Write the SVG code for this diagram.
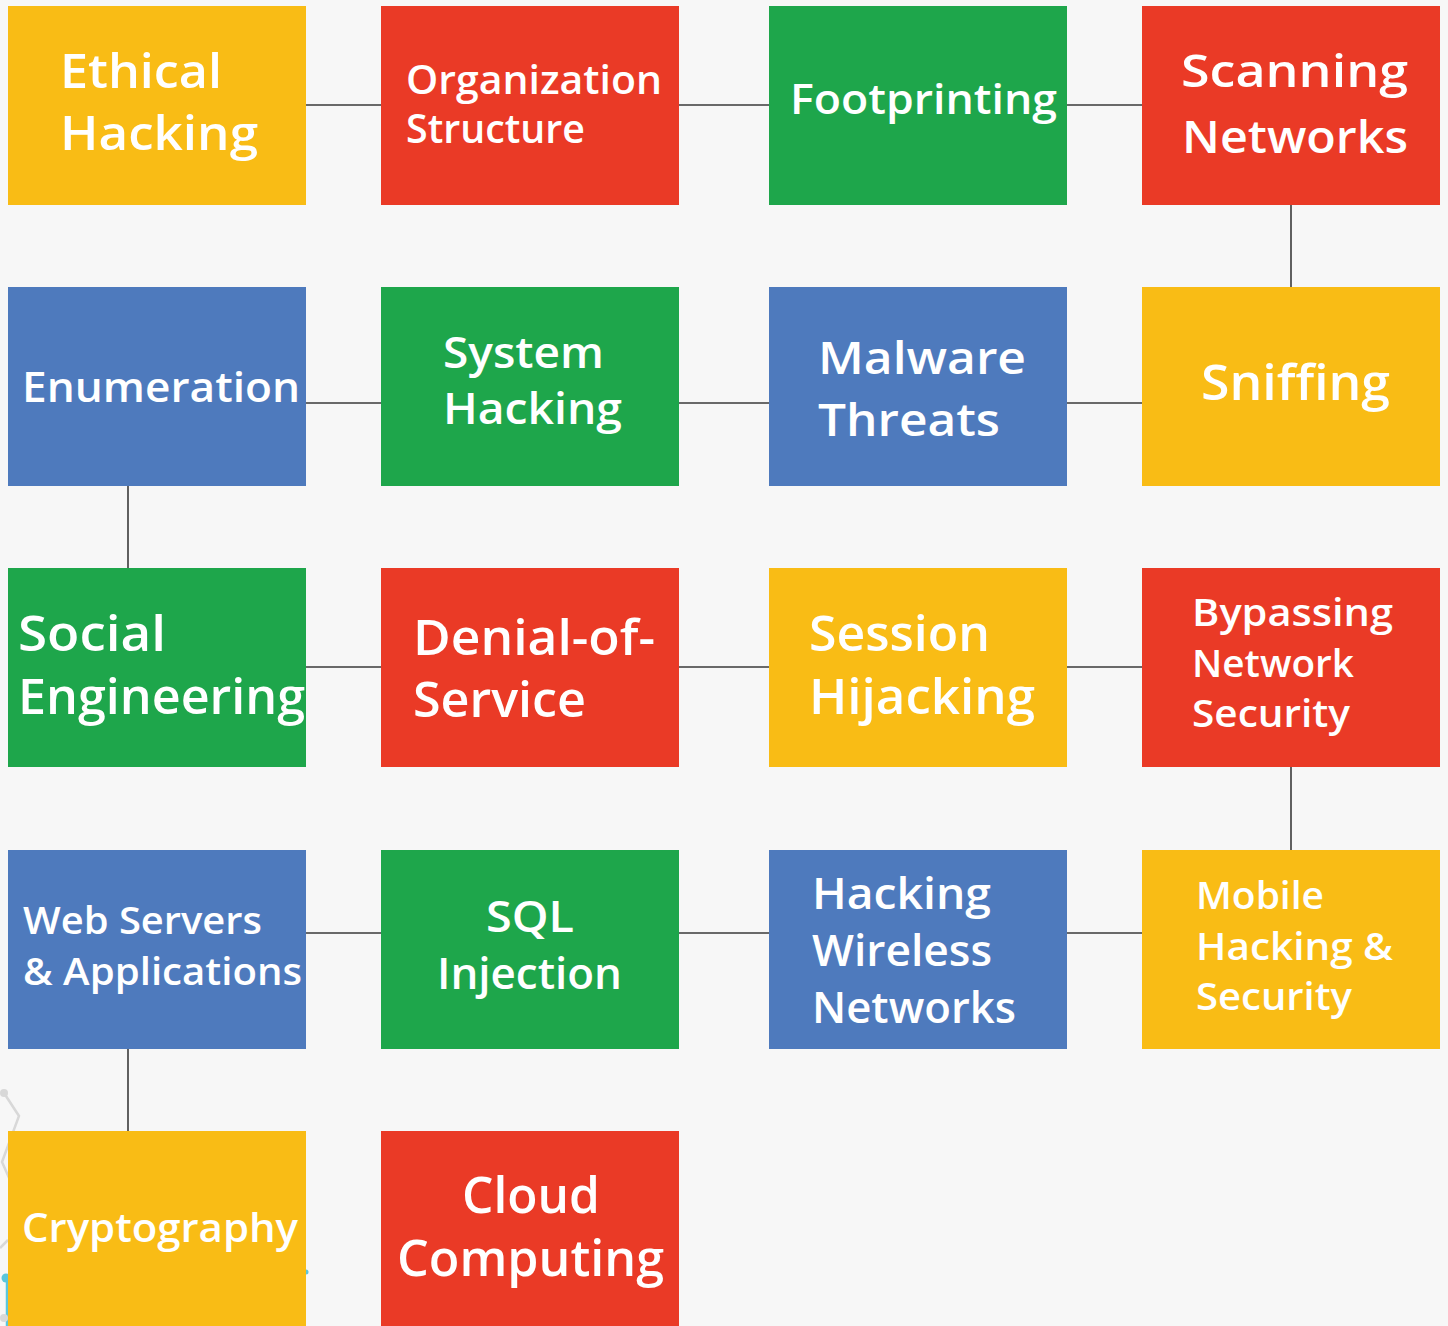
<svg xmlns="http://www.w3.org/2000/svg" width="1448" height="1326" viewBox="0 0 1448 1326">
<style>
.y{fill:#f9bc15}.r{fill:#ea3a26}.g{fill:#1ea64b}.b{fill:#4e7abd}
text{fill:#fff;font-family:"Open Sans","Noto Sans",sans-serif;font-weight:600}
.c line{stroke:#3a3a3a;stroke-width:1.6}
.deco{fill:none;stroke:#d8d8d8;stroke-width:2.5}
</style>
<rect width="1448" height="1326" fill="#f7f7f7"/>
<g id="decoration">
<polyline class="deco" points="4,1093 19,1116 2,1162 10,1180"/>
<circle cx="4" cy="1093" r="4" fill="#d8d8d8"/>
<line class="deco" x1="0" y1="1248" x2="8" y2="1240"/>
<line x1="7" y1="1278" x2="7" y2="1326" stroke="#5bc6dc" stroke-width="2.5"/>
<circle cx="6" cy="1278" r="4.5" fill="#5bc6dc"/>
<circle cx="4" cy="1318" r="4" fill="#d8d8d8"/>
<circle cx="306" cy="1272" r="2.5" fill="#5bc6dc"/>
</g>
<g class="c" id="connectors">
<line x1="306" y1="105" x2="381" y2="105"/>
<line x1="679" y1="105" x2="769" y2="105"/>
<line x1="1067" y1="105" x2="1142" y2="105"/>
<line x1="1291" y1="205" x2="1291" y2="287"/>
<line x1="306" y1="403" x2="381" y2="403"/>
<line x1="679" y1="403" x2="769" y2="403"/>
<line x1="1067" y1="403" x2="1142" y2="403"/>
<line x1="128" y1="486" x2="128" y2="568"/>
<line x1="306" y1="667" x2="381" y2="667"/>
<line x1="679" y1="667" x2="769" y2="667"/>
<line x1="1067" y1="667" x2="1142" y2="667"/>
<line x1="1291" y1="767" x2="1291" y2="850"/>
<line x1="306" y1="933" x2="381" y2="933"/>
<line x1="679" y1="933" x2="769" y2="933"/>
<line x1="1067" y1="933" x2="1142" y2="933"/>
<line x1="128" y1="1049" x2="128" y2="1131"/>
</g>
<g id="n1"><rect class="y" x="8" y="6" width="298" height="199"/>
<text font-size="47"><tspan x="60" y="88" textLength="162" lengthAdjust="spacingAndGlyphs">Ethical</tspan><tspan x="60" y="150" textLength="198" lengthAdjust="spacingAndGlyphs">Hacking</tspan></text></g>
<g id="n2"><rect class="r" x="381" y="6" width="298" height="199"/>
<text font-size="39"><tspan x="406" y="94" textLength="256" lengthAdjust="spacingAndGlyphs">Organization</tspan><tspan x="406" y="143" textLength="179" lengthAdjust="spacingAndGlyphs">Structure</tspan></text></g>
<g id="n3"><rect class="g" x="769" y="6" width="298" height="199"/>
<text font-size="42"><tspan x="790" y="114" textLength="267" lengthAdjust="spacingAndGlyphs">Footprinting</tspan></text></g>
<g id="n4"><rect class="r" x="1142" y="6" width="298" height="199"/>
<text font-size="46"><tspan x="1181" y="87" textLength="227" lengthAdjust="spacingAndGlyphs">Scanning</tspan><tspan x="1182" y="153" textLength="226" lengthAdjust="spacingAndGlyphs">Networks</tspan></text></g>
<g id="n5"><rect class="b" x="8" y="287" width="298" height="199"/>
<text font-size="42"><tspan x="22" y="402" textLength="278" lengthAdjust="spacingAndGlyphs">Enumeration</tspan></text></g>
<g id="n6"><rect class="g" x="381" y="287" width="298" height="199"/>
<text font-size="43"><tspan x="443" y="368" textLength="161" lengthAdjust="spacingAndGlyphs">System</tspan><tspan x="443" y="424" textLength="179" lengthAdjust="spacingAndGlyphs">Hacking</tspan></text></g>
<g id="n7"><rect class="b" x="769" y="287" width="298" height="199"/>
<text font-size="46"><tspan x="818" y="374" textLength="208" lengthAdjust="spacingAndGlyphs">Malware</tspan><tspan x="818" y="436" textLength="182" lengthAdjust="spacingAndGlyphs">Threats</tspan></text></g>
<g id="n8"><rect class="y" x="1142" y="287" width="298" height="199"/>
<text font-size="48"><tspan x="1201" y="400" textLength="189" lengthAdjust="spacingAndGlyphs">Sniffing</tspan></text></g>
<g id="n9"><rect class="g" x="8" y="568" width="298" height="199"/>
<text font-size="48"><tspan x="18" y="651" textLength="148" lengthAdjust="spacingAndGlyphs">Social</tspan><tspan x="18" y="714" textLength="287" lengthAdjust="spacingAndGlyphs">Engineering</tspan></text></g>
<g id="n10"><rect class="r" x="381" y="568" width="298" height="199"/>
<text font-size="48"><tspan x="413" y="655" textLength="242" lengthAdjust="spacingAndGlyphs">Denial-of-</tspan><tspan x="413" y="717" textLength="173" lengthAdjust="spacingAndGlyphs">Service</tspan></text></g>
<g id="n11"><rect class="y" x="769" y="568" width="298" height="199"/>
<text font-size="48"><tspan x="809" y="651" textLength="181" lengthAdjust="spacingAndGlyphs">Session</tspan><tspan x="809" y="714" textLength="226" lengthAdjust="spacingAndGlyphs">Hijacking</tspan></text></g>
<g id="n12"><rect class="r" x="1142" y="568" width="298" height="199"/>
<text font-size="38"><tspan x="1192" y="626" textLength="201" lengthAdjust="spacingAndGlyphs">Bypassing</tspan><tspan x="1192" y="677" textLength="162" lengthAdjust="spacingAndGlyphs">Network</tspan><tspan x="1192" y="727" textLength="158" lengthAdjust="spacingAndGlyphs">Security</tspan></text></g>
<g id="n13"><rect class="b" x="8" y="850" width="298" height="199"/>
<text font-size="38"><tspan x="23" y="934" textLength="239" lengthAdjust="spacingAndGlyphs">Web Servers</tspan><tspan x="23" y="985" textLength="279" lengthAdjust="spacingAndGlyphs">&amp; Applications</tspan></text></g>
<g id="n14"><rect class="g" x="381" y="850" width="298" height="199"/>
<text font-size="43"><tspan x="486" y="932" textLength="88" lengthAdjust="spacingAndGlyphs">SQL</tspan><tspan x="437" y="989" textLength="185" lengthAdjust="spacingAndGlyphs">Injection</tspan></text></g>
<g id="n15"><rect class="b" x="769" y="850" width="298" height="199"/>
<text font-size="44"><tspan x="812" y="909" textLength="179" lengthAdjust="spacingAndGlyphs">Hacking</tspan><tspan x="812" y="966" textLength="180" lengthAdjust="spacingAndGlyphs">Wireless</tspan><tspan x="812" y="1023" textLength="204" lengthAdjust="spacingAndGlyphs">Networks</tspan></text></g>
<g id="n16"><rect class="y" x="1142" y="850" width="298" height="199"/>
<text font-size="38"><tspan x="1196" y="909" textLength="128" lengthAdjust="spacingAndGlyphs">Mobile</tspan><tspan x="1196" y="960" textLength="197" lengthAdjust="spacingAndGlyphs">Hacking &amp;</tspan><tspan x="1196" y="1010" textLength="156" lengthAdjust="spacingAndGlyphs">Security</tspan></text></g>
<g id="n17"><rect class="y" x="8" y="1131" width="298" height="195"/>
<text font-size="40"><tspan x="22" y="1242" textLength="276" lengthAdjust="spacingAndGlyphs">Cryptography</tspan></text></g>
<g id="n18"><rect class="r" x="381" y="1131" width="298" height="195"/>
<text font-size="50"><tspan x="462" y="1213" textLength="138" lengthAdjust="spacingAndGlyphs">Cloud</tspan><tspan x="397" y="1276" textLength="267" lengthAdjust="spacingAndGlyphs">Computing</tspan></text></g>
</svg>
